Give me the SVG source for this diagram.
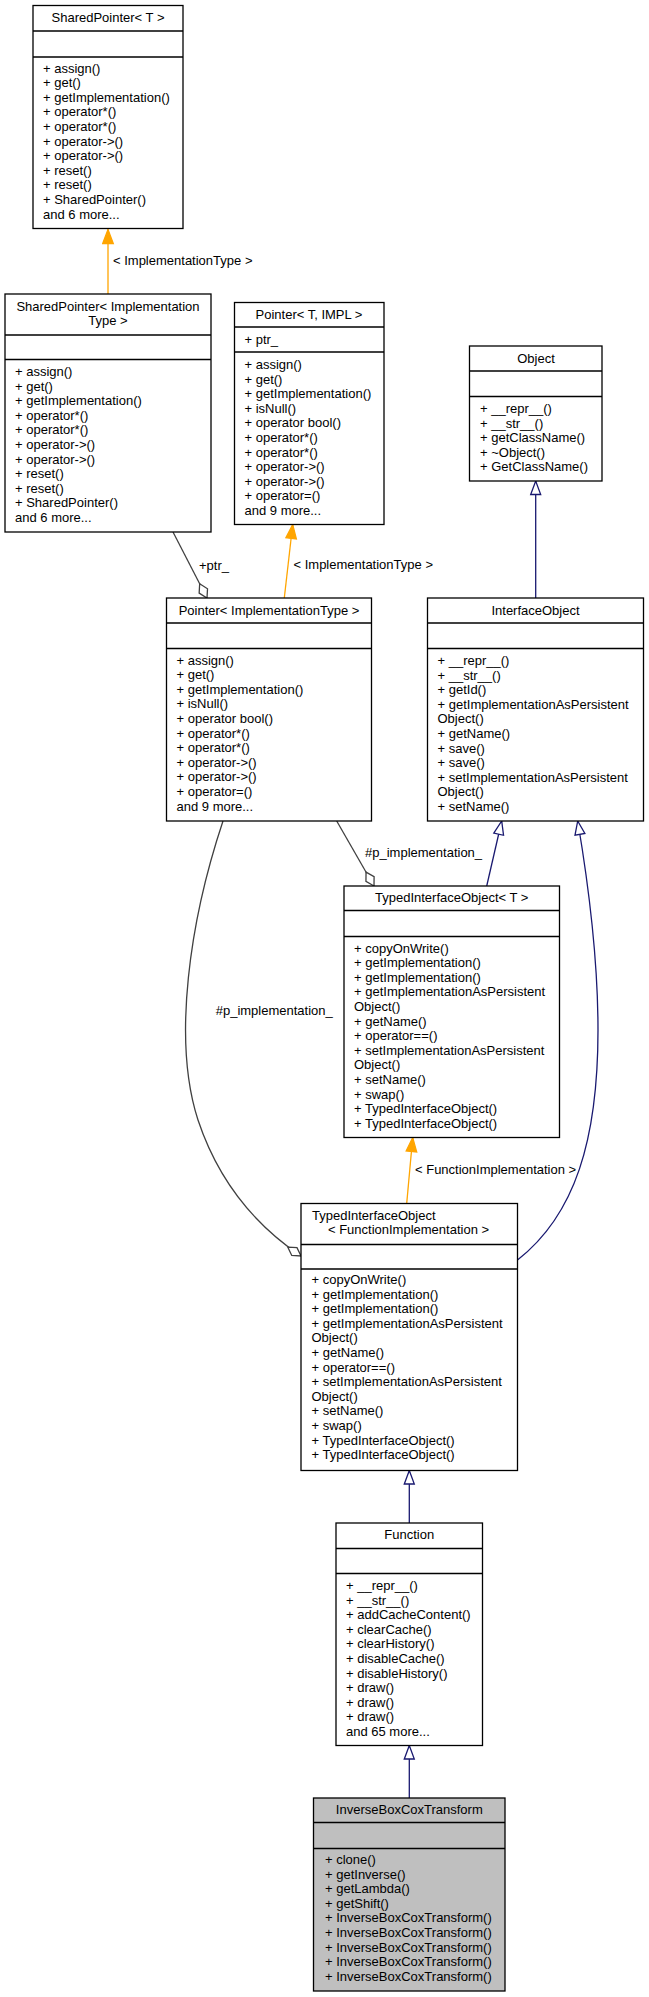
<svg xmlns="http://www.w3.org/2000/svg" width="649" height="1997" viewBox="0 0 649 1997">
<style>
text{font-family:"Liberation Sans",Arial,sans-serif;font-size:13px;fill:#000}
.c{text-anchor:middle}
.box{fill:#fff;stroke:#000;stroke-width:1.3}
.focus{fill:#bfbfbf;stroke:#000;stroke-width:1.3}
.sep{stroke:#000;stroke-width:1.3}
.inh{fill:none;stroke:#191970;stroke-width:1.3}
.use{fill:none;stroke:#404040;stroke-width:1.3}
.tpl{fill:none;stroke:#ffa500;stroke-width:1.3}
</style>
<defs>
<marker id="mInh" markerUnits="userSpaceOnUse" markerWidth="17" markerHeight="13" refX="15" refY="6.5" orient="auto">
<path d="M1.5,1.5 L15,6.5 L1.5,11.5 Z" fill="#fff" stroke="#191970" stroke-width="1.3"/>
</marker>
<marker id="mTpl" markerUnits="userSpaceOnUse" markerWidth="17" markerHeight="13" refX="15" refY="6.5" orient="auto">
<path d="M1,1.2 L15,6.5 L1,11.8 Z" fill="#ffa500" stroke="#ffa500" stroke-width="1.3"/>
</marker>
<marker id="mDia" markerUnits="userSpaceOnUse" markerWidth="19" markerHeight="13" refX="17" refY="6.5" orient="auto">
<path d="M1,6.5 L9,1.8 L17,6.5 L9,11.2 Z" fill="#fff" stroke="#404040" stroke-width="1.3"/>
</marker>
</defs>

<g id="edges">
<path class="tpl" d="M108,294 L108,229.5" marker-end="url(#mTpl)"/>
<text x="113" y="265">&lt; ImplementationType &gt;</text>
<path class="tpl" d="M284.3,598 L292.7,524.5" marker-end="url(#mTpl)"/>
<text x="293.5" y="568.5">&lt; ImplementationType &gt;</text>
<path class="use" d="M173,532 L207,598" marker-end="url(#mDia)"/>
<text x="199" y="569.5">+ptr_</text>
<path class="inh" d="M535.7,598 L535.7,481" marker-end="url(#mInh)"/>
<path class="inh" d="M486.7,886 L501.7,821" marker-end="url(#mInh)"/>
<path class="use" d="M336.7,821 L374,886" marker-end="url(#mDia)"/>
<text x="365" y="857">#p_implementation_</text>
<path class="use" d="M223,821 C190,920 172,1040 198,1120 C218,1180 255,1225 301,1256" marker-end="url(#mDia)"/>
<text x="215.7" y="1014.5">#p_implementation_</text>
<path class="tpl" d="M406.7,1203.5 L412.7,1137.5" marker-end="url(#mTpl)"/>
<text x="415" y="1173.5">&lt; FunctionImplementation &gt;</text>
<path class="inh" d="M517.5,1260 C575,1215 598,1140 598,1030 C598,950 586,870 577.7,821" marker-end="url(#mInh)"/>
<path class="inh" d="M409.3,1523 L409.3,1470.5" marker-end="url(#mInh)"/>
<path class="inh" d="M409.3,1798 L409.3,1745.5" marker-end="url(#mInh)"/>
</g>

<g id="SharedPointerT">
<rect class="box" x="33" y="5.5" width="150" height="223"/>
<line class="sep" x1="33" y1="31" x2="183" y2="31"/>
<line class="sep" x1="33" y1="57" x2="183" y2="57"/>
<text class="c" x="108" y="22">SharedPointer&lt; T &gt;</text>
<text x="43" y="72.5">+ assign()</text>
<text x="43" y="87.1">+ get()</text>
<text x="43" y="101.7">+ getImplementation()</text>
<text x="43" y="116.3">+ operator*()</text>
<text x="43" y="130.9">+ operator*()</text>
<text x="43" y="145.5">+ operator-&gt;()</text>
<text x="43" y="160.1">+ operator-&gt;()</text>
<text x="43" y="174.7">+ reset()</text>
<text x="43" y="189.3">+ reset()</text>
<text x="43" y="203.9">+ SharedPointer()</text>
<text x="43" y="218.5">and 6 more...</text>
</g>

<g id="SharedPointerIT">
<rect class="box" x="5" y="294" width="206" height="238"/>
<line class="sep" x1="5" y1="335" x2="211" y2="335"/>
<line class="sep" x1="5" y1="359.5" x2="211" y2="359.5"/>
<text class="c" x="108" y="310.5">SharedPointer&lt; Implementation</text>
<text class="c" x="108" y="325">Type &gt;</text>
<text x="15" y="376">+ assign()</text>
<text x="15" y="390.6">+ get()</text>
<text x="15" y="405.2">+ getImplementation()</text>
<text x="15" y="419.8">+ operator*()</text>
<text x="15" y="434.4">+ operator*()</text>
<text x="15" y="449">+ operator-&gt;()</text>
<text x="15" y="463.6">+ operator-&gt;()</text>
<text x="15" y="478.2">+ reset()</text>
<text x="15" y="492.8">+ reset()</text>
<text x="15" y="507.4">+ SharedPointer()</text>
<text x="15" y="522">and 6 more...</text>
</g>

<g id="PointerTIMPL">
<rect class="box" x="234.5" y="302.5" width="149.5" height="222"/>
<line class="sep" x1="234.5" y1="327" x2="384" y2="327"/>
<line class="sep" x1="234.5" y1="352" x2="384" y2="352"/>
<text class="c" x="309" y="318.5">Pointer&lt; T, IMPL &gt;</text>
<text x="244.5" y="343.5">+ ptr_</text>
<text x="244.5" y="369">+ assign()</text>
<text x="244.5" y="383.6">+ get()</text>
<text x="244.5" y="398.2">+ getImplementation()</text>
<text x="244.5" y="412.8">+ isNull()</text>
<text x="244.5" y="427.4">+ operator bool()</text>
<text x="244.5" y="442">+ operator*()</text>
<text x="244.5" y="456.6">+ operator*()</text>
<text x="244.5" y="471.2">+ operator-&gt;()</text>
<text x="244.5" y="485.8">+ operator-&gt;()</text>
<text x="244.5" y="500.4">+ operator=()</text>
<text x="244.5" y="515">and 9 more...</text>
</g>

<g id="PointerIT">
<rect class="box" x="166.5" y="598" width="205" height="223"/>
<line class="sep" x1="166.5" y1="623" x2="371.5" y2="623"/>
<line class="sep" x1="166.5" y1="648.5" x2="371.5" y2="648.5"/>
<text class="c" x="269" y="614.5">Pointer&lt; ImplementationType &gt;</text>
<text x="176.5" y="664.5">+ assign()</text>
<text x="176.5" y="679.1">+ get()</text>
<text x="176.5" y="693.7">+ getImplementation()</text>
<text x="176.5" y="708.3">+ isNull()</text>
<text x="176.5" y="722.9">+ operator bool()</text>
<text x="176.5" y="737.5">+ operator*()</text>
<text x="176.5" y="752.1">+ operator*()</text>
<text x="176.5" y="766.7">+ operator-&gt;()</text>
<text x="176.5" y="781.3">+ operator-&gt;()</text>
<text x="176.5" y="795.9">+ operator=()</text>
<text x="176.5" y="810.5">and 9 more...</text>
</g>

<g id="Object">
<rect class="box" x="469.5" y="346" width="132.5" height="135"/>
<line class="sep" x1="469.5" y1="371" x2="602" y2="371"/>
<line class="sep" x1="469.5" y1="396.5" x2="602" y2="396.5"/>
<text class="c" x="536" y="363">Object</text>
<text x="480" y="413">+ __repr__()</text>
<text x="480" y="427.6">+ __str__()</text>
<text x="480" y="442.2">+ getClassName()</text>
<text x="480" y="456.8">+ ~Object()</text>
<text x="480" y="471.4">+ GetClassName()</text>
</g>

<g id="InterfaceObject">
<rect class="box" x="427.5" y="598" width="216" height="223"/>
<line class="sep" x1="427.5" y1="623" x2="643.5" y2="623"/>
<line class="sep" x1="427.5" y1="648.5" x2="643.5" y2="648.5"/>
<text class="c" x="535.5" y="614.5">InterfaceObject</text>
<text x="437.5" y="665">+ __repr__()</text>
<text x="437.5" y="679.6">+ __str__()</text>
<text x="437.5" y="694.2">+ getId()</text>
<text x="437.5" y="708.8">+ getImplementationAsPersistent</text>
<text x="437.5" y="723.4">Object()</text>
<text x="437.5" y="738">+ getName()</text>
<text x="437.5" y="752.6">+ save()</text>
<text x="437.5" y="767.2">+ save()</text>
<text x="437.5" y="781.8">+ setImplementationAsPersistent</text>
<text x="437.5" y="796.4">Object()</text>
<text x="437.5" y="811">+ setName()</text>
</g>

<g id="TypedInterfaceObjectT">
<rect class="box" x="344" y="886" width="215.5" height="251.5"/>
<line class="sep" x1="344" y1="910.5" x2="559.5" y2="910.5"/>
<line class="sep" x1="344" y1="936.5" x2="559.5" y2="936.5"/>
<text class="c" x="451.7" y="902">TypedInterfaceObject&lt; T &gt;</text>
<text x="354" y="952.5">+ copyOnWrite()</text>
<text x="354" y="967.1">+ getImplementation()</text>
<text x="354" y="981.7">+ getImplementation()</text>
<text x="354" y="996.3">+ getImplementationAsPersistent</text>
<text x="354" y="1010.9">Object()</text>
<text x="354" y="1025.5">+ getName()</text>
<text x="354" y="1040.1">+ operator==()</text>
<text x="354" y="1054.7">+ setImplementationAsPersistent</text>
<text x="354" y="1069.3">Object()</text>
<text x="354" y="1083.9">+ setName()</text>
<text x="354" y="1098.5">+ swap()</text>
<text x="354" y="1113.1">+ TypedInterfaceObject()</text>
<text x="354" y="1127.7">+ TypedInterfaceObject()</text>
</g>

<g id="TypedInterfaceObjectFI">
<rect class="box" x="301" y="1203.5" width="216.5" height="267"/>
<line class="sep" x1="301" y1="1244.5" x2="517.5" y2="1244.5"/>
<line class="sep" x1="301" y1="1269" x2="517.5" y2="1269"/>
<text x="312" y="1219.5">TypedInterfaceObject</text>
<text class="c" x="408.5" y="1234">&lt; FunctionImplementation &gt;</text>
<text x="311.5" y="1284">+ copyOnWrite()</text>
<text x="311.5" y="1298.6">+ getImplementation()</text>
<text x="311.5" y="1313.2">+ getImplementation()</text>
<text x="311.5" y="1327.8">+ getImplementationAsPersistent</text>
<text x="311.5" y="1342.4">Object()</text>
<text x="311.5" y="1357">+ getName()</text>
<text x="311.5" y="1371.6">+ operator==()</text>
<text x="311.5" y="1386.2">+ setImplementationAsPersistent</text>
<text x="311.5" y="1400.8">Object()</text>
<text x="311.5" y="1415.4">+ setName()</text>
<text x="311.5" y="1430">+ swap()</text>
<text x="311.5" y="1444.6">+ TypedInterfaceObject()</text>
<text x="311.5" y="1459.2">+ TypedInterfaceObject()</text>
</g>

<g id="Function">
<rect class="box" x="336" y="1523" width="146.5" height="222.5"/>
<line class="sep" x1="336" y1="1548.5" x2="482.5" y2="1548.5"/>
<line class="sep" x1="336" y1="1573.5" x2="482.5" y2="1573.5"/>
<text class="c" x="409.3" y="1538.5">Function</text>
<text x="346" y="1590">+ __repr__()</text>
<text x="346" y="1604.6">+ __str__()</text>
<text x="346" y="1619.2">+ addCacheContent()</text>
<text x="346" y="1633.8">+ clearCache()</text>
<text x="346" y="1648.4">+ clearHistory()</text>
<text x="346" y="1663">+ disableCache()</text>
<text x="346" y="1677.6">+ disableHistory()</text>
<text x="346" y="1692.2">+ draw()</text>
<text x="346" y="1706.8">+ draw()</text>
<text x="346" y="1721.4">+ draw()</text>
<text x="346" y="1736">and 65 more...</text>
</g>

<g id="InverseBoxCoxTransform">
<rect class="focus" x="313.5" y="1798" width="191.5" height="193"/>
<line class="sep" x1="313.5" y1="1822.5" x2="505" y2="1822.5"/>
<line class="sep" x1="313.5" y1="1848.5" x2="505" y2="1848.5"/>
<text class="c" x="409.3" y="1813.5">InverseBoxCoxTransform</text>
<text x="325" y="1864">+ clone()</text>
<text x="325" y="1878.6">+ getInverse()</text>
<text x="325" y="1893.2">+ getLambda()</text>
<text x="325" y="1907.8">+ getShift()</text>
<text x="325" y="1922.4">+ InverseBoxCoxTransform()</text>
<text x="325" y="1937">+ InverseBoxCoxTransform()</text>
<text x="325" y="1951.6">+ InverseBoxCoxTransform()</text>
<text x="325" y="1966.2">+ InverseBoxCoxTransform()</text>
<text x="325" y="1980.8">+ InverseBoxCoxTransform()</text>
</g>
</svg>
